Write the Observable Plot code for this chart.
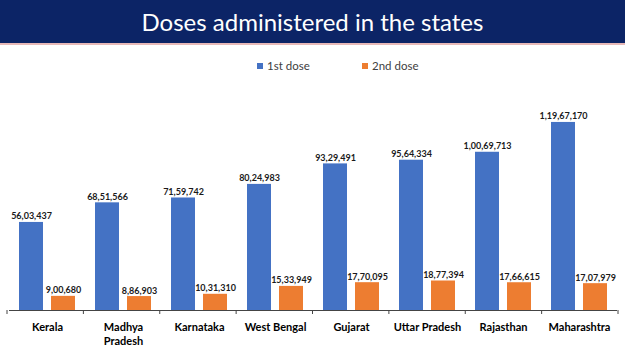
<!DOCTYPE html>
<html>
<head>
<meta charset="utf-8">
<script src="https://cdn.jsdelivr.net/npm/d3@7"></script>
<script src="https://cdn.jsdelivr.net/npm/@observablehq/plot@0.6"></script>
<style>
  html, body { margin: 0; padding: 0; background: #fff; }
  #wrap { width: 625px; }
  #header { height: 43px; background: #0c2466; border-bottom: 2px solid #e8b9b8;
    color: #fff; font-family: Lato, "Open Sans", sans-serif; font-size: 24px;
    line-height: 43px; text-align: center; }
  #legend { position: relative; height: 35px; font-family: Lato, sans-serif;
    font-size: 11.5px; color: #404040; }
  .item { position: absolute; top: 14px; display: flex; align-items: center; }
  .sw { width: 6px; height: 6px; margin-right: 4px; }
  svg { display: block; }
</style>
</head>
<body>
<div id="wrap">
  <div id="header">Doses administered in the states</div>
  <div id="legend"></div>
  <div id="chart"></div>
</div>
<script>
const states = ["Kerala", "Madhya Pradesh", "Karnataka", "West Bengal", "Gujarat", "Uttar Pradesh", "Rajasthan", "Maharashtra"];
const doses = ["1st dose", "2nd dose"];
const dose1 = [5603437, 6851566, 7159742, 8024983, 9329491, 9564334, 10069713, 11967170];
const dose2 = [900680, 886903, 1031310, 1533949, 1770095, 1877394, 1766615, 1707979];
const colors = ["#4472C4", "#ED7D31"];

function inr(n) {
  const s = String(Math.round(n));
  if (s.length <= 3) return s;
  const last3 = s.slice(-3);
  const rest = s.slice(0, -3).replace(/\B(?=(\d{2})+(?!\d))/g, ",");
  return rest + "," + last3;
}

const data = states.flatMap((s, i) => [
  {state: s, dose: doses[0], value: dose1[i]},
  {state: s, dose: doses[1], value: dose2[i]}
]);

// legend
const legend = document.getElementById("legend");
const legendLeft = [257, 362];
doses.forEach((d, i) => {
  const it = document.createElement("div");
  it.className = "item";
  it.style.left = legendLeft[i] + "px";
  it.innerHTML = `<span class="sw" style="background:${colors[i]}"></span><span>${d}</span>`;
  legend.appendChild(it);
});

const chart = Plot.plot({
  width: 625,
  height: 281,
  marginTop: 10,
  marginBottom: 51,
  marginLeft: 7,
  marginRight: 7,
  style: {fontFamily: "Lato, sans-serif", background: "#fff"},
  fx: {domain: states, padding: 0, axis: null, label: null},
  x: {domain: doses, paddingInner: 0.24, paddingOuter: 0.28, axis: null},
  y: {domain: [0, 14000000], axis: null},
  color: {domain: doses, range: colors},
  marks: [
    Plot.barY(data, {fx: "state", x: "dose", y: "value", fill: "dose"}),
    Plot.text(data, {fx: "state", x: "dose", y: "value", text: d => inr(d.value),
      dy: -3, lineAnchor: "bottom", fontSize: 9, fontWeight: "bold", fill: "#1a1a1a"}),
    Plot.ruleY([0], {stroke: "#444", strokeWidth: 1}),
    Plot.axisFx({anchor: "bottom", tickSize: 0, tickPadding: 11, fontSize: 11,
      fontWeight: "bold", lineHeight: 1.25, label: null, fill: "#000",
      tickFormat: d => d === "Madhya Pradesh" ? "Madhya\nPradesh" : d})
  ]
});

// boundary tick marks, placed with Plot's fx scale
const fx = chart.scale("fx");
const y = chart.scale("y");
const band = d3.scaleBand().domain(fx.domain).range(fx.range).padding(0);
const bounds = states.map(s => band(s)).concat([band(states[states.length - 1]) + band.bandwidth()]);
const y0 = y.apply ? y.apply(0) : 230;
d3.select(chart).append("g")
  .selectAll("line").data(bounds).join("line")
  .attr("x1", d => d).attr("x2", d => d)
  .attr("y1", y0).attr("y2", y0 + 4)
  .attr("stroke", "#444").attr("stroke-width", 1);

document.getElementById("chart").appendChild(chart);
</script>
</body>
</html>
